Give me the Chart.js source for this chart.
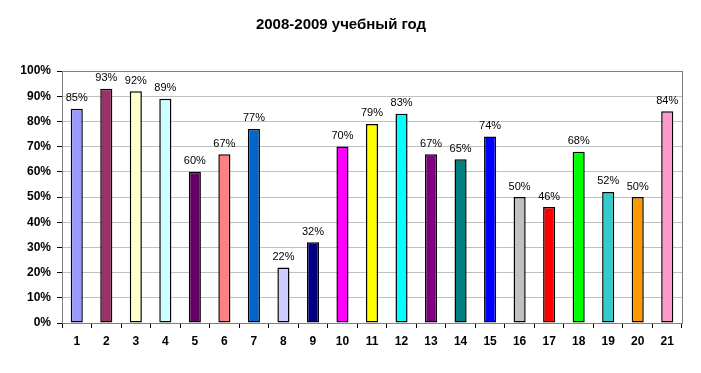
<!DOCTYPE html>
<html>
<head>
<meta charset="utf-8">
<script src="https://cdn.jsdelivr.net/npm/chart.js@4"></script>
<style>
  html, body { margin: 0; padding: 0; background: #fff; }
  #wrap { width: 701px; height: 373px; position: relative; }
</style>
</head>
<body>
<div id="wrap"><canvas id="chart"></canvas></div>
<script>
const labels = ['1', '2', '3', '4', '5', '6', '7', '8', '9', '10', '11',
    '12', '13', '14', '15', '16', '17', '18', '19', '20', '21'];
const values = [85, 93, 92, 89, 60, 67, 77, 22, 32, 70, 79, 83, 67, 65, 74, 50, 46, 68, 52, 50, 84];
const colors = [
    '#9999FF', '#993366', '#FFFFCC', '#CCFFFF', '#660066', '#FF8080', '#0066CC',
    '#CCCCFF', '#000080', '#FF00FF', '#FFFF00', '#00FFFF', '#800080', '#008080',
    '#0000FF', '#C0C0C0', '#FF0000', '#00FF00', '#33CCCC', '#FF9900', '#FF99CC'
];
const yTicks = [0, 10, 20, 30, 40, 50, 60, 70, 80, 90, 100];

// gray frame round the plot area (top and right sides show)
const frame = {
    id: 'frame',
    beforeDatasetsDraw(chart) {
        const a = chart.chartArea, c = chart.ctx;
        c.save();
        c.strokeStyle = '#808080';
        c.lineWidth = 1;
        c.strokeRect(Math.round(a.left) + 0.5, Math.round(a.top) + 0.5,
            Math.round(a.right - a.left), Math.round(a.bottom - a.top));
        c.restore();
    }
};

// value labels above each bar
const barLabels = {
    id: 'barLabels',
    afterDatasetsDraw(chart) {
        const c = chart.ctx;
        c.save();
        c.font = '11px Arial, "Liberation Sans", sans-serif';
        c.fillStyle = '#000';
        c.textAlign = 'center';
        c.textBaseline = 'bottom';
        chart.getDatasetMeta(0).data.forEach((bar, i) => {
            c.fillText(values[i] + '%', bar.x, bar.y - 5);
        });
        c.restore();
    }
};

new Chart(document.getElementById('chart'), {
    type: 'bar',
    data: {
        labels: labels,
        datasets: [{
            data: values,
            backgroundColor: colors,
            borderColor: '#000',
            borderWidth: 1.5,
            borderSkipped: false,
            categoryPercentage: 1,
            barPercentage: 0.41
        }]
    },
    options: {
        responsive: true,
        maintainAspectRatio: false,
        animation: false,
        layout: { padding: { left: 0, right: 19, top: 0, bottom: 0 } },
        plugins: {
            legend: { display: false },
            tooltip: { enabled: false },
            title: {
                display: true,
                text: '2008-2009 учебный год',
                color: '#000',
                font: { family: 'Arial, "Liberation Sans", sans-serif', size: 15, weight: 'bold' },
                padding: { top: 16, bottom: 37 }
            }
        },
        scales: {
            x: {
                grid: {
                    drawOnChartArea: false,
                    tickColor: '#000',
                    tickLength: 5
                },
                border: { color: '#000' },
                ticks: {
                    color: '#000',
                    font: { family: 'Arial, "Liberation Sans", sans-serif', size: 12, weight: 'bold' },
                    padding: 6
                },
                afterFit(s) { s.height = 50; }
            },
            y: {
                min: 0,
                max: 100,
                afterBuildTicks(s) { s.ticks = yTicks.map(v => ({ value: v })); },
                grid: {
                    color: '#C0C0C0',
                    tickColor: '#000',
                    tickLength: 5
                },
                border: { color: '#000' },
                ticks: {
                    color: '#000',
                    font: { family: 'Arial, "Liberation Sans", sans-serif', size: 12, weight: 'bold' },
                    padding: 6,
                    callback: v => v + '%'
                },
                afterFit(s) { s.width = 62; }
            }
        }
    },
    plugins: [frame, barLabels]
});
</script>
</body>
</html>
